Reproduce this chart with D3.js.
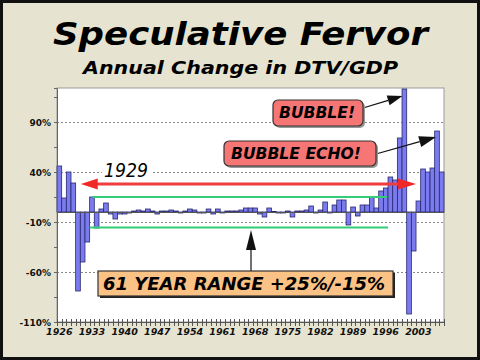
<!DOCTYPE html>
<html><head><meta charset="utf-8">
<script src="https://cdn.jsdelivr.net/npm/d3@7"></script>
<style>html,body{margin:0;padding:0;background:#e6e4d0}svg{display:block}</style>
</head><body>
<svg id="c" width="480" height="360"></svg>
<script>
const years = d3.range(1926, 2009);
const values = [46,14,40,29,-79,-50,-30,15,-16,3,
  9,-2,-7,-2,-2,-1,1,2,1,3,
  1,-2,1,1,2,1,-1,1,3,2,
  -1,-1,3,-2,3,-1,1,1,1,2,
  4,4,4,-2,-5,4,0.5,-1,-1,1,
  -5,1,1,2,6,-1,2,10,-1,7,
  12,12,-13,5,-4,7,7,15,4,21,
  24,35,32,74,123,-102,-39,11,43,40,
  44,81,40];
const yTicks = [-110,-60,-10,40,90];
const yMinor = [-110,-85,-60,-35,-10,15,40,65,90,115];
const labelYears = [1926,1933,1940,1947,1954,1961,1968,1975,1982,1989,1996,2003];
const rangeLines = [{v:15,from:1933.6,to:1996.8},{v:-15.5,from:1933,to:1997}];
const title = "Speculative Fervor";
const subtitle = "Annual Change in DTV/GDP";

const svg = d3.select("#c");
const F = "'DejaVu Sans', Verdana, sans-serif";
const L = 57, R = 444, T = 88, B = 322;

svg.append("rect").attr("x",1.5).attr("y",1.5).attr("width",477).attr("height",357)
  .attr("fill","#e6e4d0").attr("stroke","#111").attr("stroke-width",3);

svg.append("text").attr("x",240.5).attr("y",45).attr("text-anchor","middle")
  .attr("font-family",F).attr("font-weight","bold").attr("font-style","italic")
  .attr("font-size",32).attr("textLength",375).attr("lengthAdjust","spacingAndGlyphs")
  .attr("fill","#000").text(title);
svg.append("text").attr("x",240.5).attr("y",74).attr("text-anchor","middle")
  .attr("font-family",F).attr("font-weight","bold").attr("font-style","italic")
  .attr("font-size",18).attr("textLength",315).attr("lengthAdjust","spacingAndGlyphs")
  .attr("fill","#000").text(subtitle);

const x = d3.scaleBand().domain(years).range([L,R]).padding(0);
const w = x.bandwidth();
const xl = yr => L + (yr - years[0]) * w;
const y = d3.scaleLinear().domain([-110,124]).range([B,T]);

svg.append("rect").attr("x",L).attr("y",T).attr("width",R-L).attr("height",B-T)
  .attr("fill","#fff").attr("stroke","#999").attr("stroke-width",1);

// gridlines
svg.append("g").selectAll("line").data(yTicks.filter(d=>d>-110)).join("line")
  .attr("x1",L).attr("x2",R).attr("y1",d=>Math.round(y(d))+0.5).attr("y2",d=>Math.round(y(d))+0.5)
  .attr("stroke","#888").attr("stroke-dasharray","2,2").attr("stroke-width",1);

// 1929 label with white background
svg.append("rect").attr("x",102).attr("y",160).attr("width",50).attr("height",20).attr("fill","#fff");
svg.append("text").attr("x",104).attr("y",177).attr("font-family",F).attr("font-style","italic")
  .attr("font-size",19).attr("textLength",44).attr("lengthAdjust","spacingAndGlyphs").text("1929");

// bars
svg.append("g").selectAll("rect").data(years).join("rect")
  .attr("x",d=>x(d)).attr("width",w)
  .attr("y",(d,i)=>y(Math.max(0,values[i])))
  .attr("height",(d,i)=>Math.abs(y(values[i])-y(0)))
  .attr("fill","#7b7bf0").attr("stroke","#28286e").attr("stroke-width",0.8);

// zero line
svg.append("line").attr("x1",L).attr("x2",R).attr("y1",y(0)+0.5).attr("y2",y(0)+0.5)
  .attr("stroke","#555").attr("stroke-width",1);

// range lines
svg.append("g").selectAll("line").data(rangeLines).join("line")
  .attr("x1",d=>xl(d.from)).attr("x2",d=>xl(d.to))
  .attr("y1",d=>y(d.v)).attr("y2",d=>y(d.v))
  .attr("stroke","#33cc77").attr("stroke-width",2);

// red double arrow
const ry = y(28), rx1 = xl(1931.1), rx2 = xl(2003.0);
svg.append("line").attr("x1",rx1+14).attr("x2",rx2-14).attr("y1",ry).attr("y2",ry)
  .attr("stroke","#f03c3c").attr("stroke-width",3);
svg.append("path").attr("d",`M${rx1},${ry}L${rx1+17},${ry-5.5}L${rx1+17},${ry+5.5}Z`).attr("fill","#f02828");
svg.append("path").attr("d",`M${rx2},${ry}L${rx2-18},${ry-5.5}L${rx2-18},${ry+5.5}Z`).attr("fill","#f02828");

// axes
const yAxis = d3.axisLeft(y).tickValues(yMinor).tickSize(3).tickFormat("");
const ya = svg.append("g").attr("transform",`translate(${L},0)`).call(yAxis);
ya.selectAll("path,line").attr("stroke","#666");
svg.append("g").selectAll("text").data(yTicks).join("text")
  .attr("x",51).attr("y",d=>y(d)+3.5).attr("text-anchor","end")
  .attr("font-family",F).attr("font-weight","bold").attr("font-size",9).attr("fill","#111")
  .text(d=>d+"%");

const bounds = years.map(d=>x(d)).concat([R]);
svg.append("g").selectAll("line").data(bounds).join("line")
  .attr("x1",d=>Math.round(d)+0.5).attr("x2",d=>Math.round(d)+0.5).attr("y1",B-3).attr("y2",B+4)
  .attr("stroke","#555").attr("stroke-width",1);
svg.append("line").attr("x1",L).attr("x2",R).attr("y1",B+0.5).attr("y2",B+0.5).attr("stroke","#555");
svg.append("g").selectAll("text").data(labelYears).join("text")
  .attr("x",d=>x(d)+w/2).attr("y",335).attr("text-anchor","middle")
  .attr("font-family",F).attr("font-weight","bold").attr("font-style","italic").attr("font-size",9.5)
  .attr("fill","#111").text(d=>d);

// arrow helper
function arrow(x1,y1,x2,y2,len,hw){
  const a = Math.atan2(y2-y1,x2-x1), c=Math.cos(a), s=Math.sin(a);
  const bx = x2-len*c, by = y2-len*s;
  svg.append("line").attr("x1",x1).attr("y1",y1).attr("x2",bx).attr("y2",by).attr("stroke","#111").attr("stroke-width",1.2);
  svg.append("path").attr("d",`M${x2},${y2}L${bx-hw*s},${by+hw*c}L${bx+hw*s},${by-hw*c}Z`).attr("fill","#111");
}
function callout(x0,y0,bw,bh,txt,fill,rad,tx,tlen,fs,shadow){
  svg.append("rect").attr("x",x0+2).attr("y",y0+2).attr("width",bw).attr("height",bh).attr("rx",rad)
    .attr("fill",shadow);
  svg.append("rect").attr("x",x0).attr("y",y0).attr("width",bw).attr("height",bh).attr("rx",rad)
    .attr("fill",fill).attr("stroke","#333").attr("stroke-width",1.2);
  svg.append("text").attr("x",tx).attr("y",y0+bh/2+fs*0.36).attr("font-family",F)
    .attr("font-weight","bold").attr("font-style","italic").attr("font-size",fs)
    .attr("textLength",tlen).attr("lengthAdjust","spacingAndGlyphs").attr("fill","#000").text(txt);
}

// BUBBLE!
arrow(363,108,xl(2000.1),y(116),15,5);
callout(273,100,90,26,"BUBBLE!","#f67676",5,279,76,15,"#999");
// BUBBLE ECHO!
arrow(376,154,xl(2007.3),y(75),17,5.5);
callout(224,141,152,25,"BUBBLE ECHO!","#f67676",5,231,130,15,"#999");
// 61 YEAR RANGE
arrow(251,271,251,y(-18),20,5);
callout(98,271,295,25,"61 YEAR RANGE +25%/-15%","#fbc285",0,103,282,17.5,"#222");
</script>
</body></html>
